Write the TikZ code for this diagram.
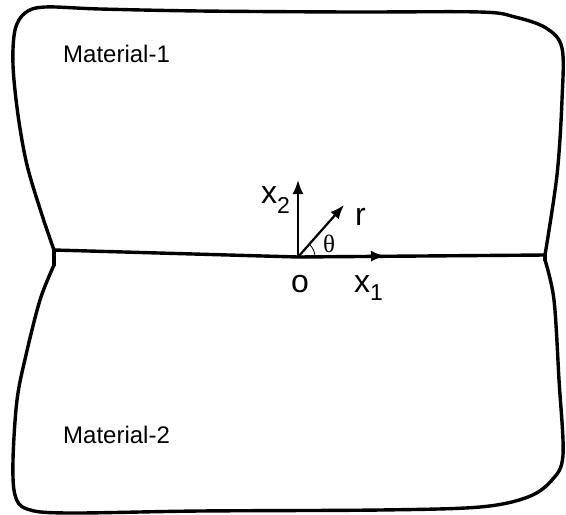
\documentclass[tikz,border=0pt]{standalone}
\usepackage{fontspec}
\setmainfont{Liberation Sans}
\newfontfamily\serifgr{Liberation Serif}
\usetikzlibrary{arrows.meta}
\begin{document}
\begin{tikzpicture}[x=1pt,y=-1pt,
  outline/.style={line width=3.4pt,line join=round,line cap=round},
  axis/.style={line width=2.2pt,-{Latex[length=14pt,width=11pt]}},
  big/.style={inner sep=0pt,font=\fontsize{32}{32}\selectfont},
  mat/.style={inner sep=0pt,anchor=base west,font=\fontsize{24}{24}\selectfont}]
\useasboundingbox (0,0) rectangle (566,515);
% junctions and origin
\coordinate (L) at (54,250);
\coordinate (Ld) at (54,265);
\coordinate (R) at (545,255);
\coordinate (Rd) at (545,260);
\coordinate (O) at (298,257);
\coordinate (x1tip) at (385,256);
\coordinate (x2tip) at (298,180);
\coordinate (rtip) at (344,205);
% upper material outline
\draw[outline] plot[smooth,tension=0.55] coordinates {
  (54,250) (42,215) (27,165) (18,115) (13,65) (15,30) (25,13) (45,7)
  (100,9) (200,11) (350,12) (480,12) (515,17) (546,28) (562,48)
  (562,100) (557,175) (545,255)};
% lower material outline
\draw[outline] (L) -- (Ld);
\draw[outline] plot[smooth,tension=0.55] coordinates {
  (54,265) (40,300) (26,355) (17,400) (13,460) (15,495) (27,509) (67,513)
  (200,511) (380,510) (480,507) (528,497) (552,480) (563,455)
  (559,380) (554,300) (545,260)};
\draw[outline] (Rd) -- (R);
% interface
\draw[outline] (L) -- (O) -- (R);
% axes
\draw[axis] (O) -- (x1tip);
\draw[axis] (O) -- (x2tip);
\draw[axis] (O) -- (rtip);
\draw[line width=0.8pt] (O) ++(17,0) arc[start angle=0,end angle=-48,radius=17];
% labels
\node[big,anchor=base] (olab) at (300,292) {o};
\node[big,anchor=base west] (x1lab) at (354,292) {x\raisebox{-8pt}{\fontsize{23}{23}\selectfont 1}};
\node[big,anchor=base west] (x2lab) at (261,203) {x\raisebox{-10pt}{\fontsize{23}{23}\selectfont 2}};
\node[big,anchor=base west] (rlab) at (355,225) {r};
\node[inner sep=0pt,anchor=base,font=\serifgr\fontsize{25}{25}\selectfont] (thlab) at (329,252) {θ};
\node[mat] (m1) at (63,62) {Material-1};
\node[mat] (m2) at (63,443) {Material-2};
\end{tikzpicture}
\end{document}
